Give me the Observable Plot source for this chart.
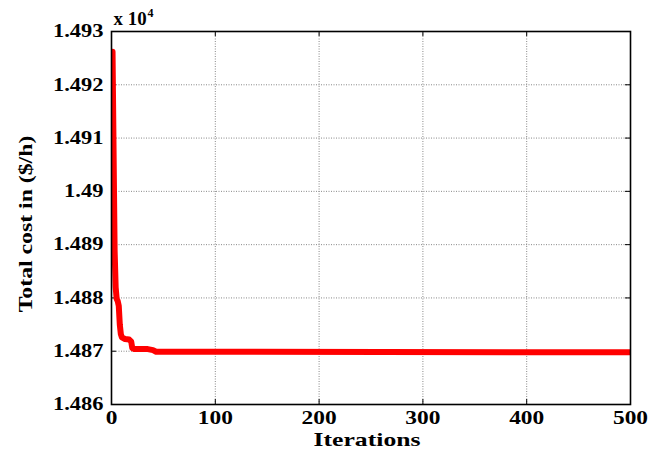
<!DOCTYPE html>
<html>
<head>
<meta charset="utf-8">
<script src="https://cdn.jsdelivr.net/npm/d3@7"></script>
<script src="https://cdn.jsdelivr.net/npm/@observablehq/plot@0.6"></script>
<style>
  html, body { margin: 0; padding: 0; background: #fff; }
  svg { display: block; }
  #chart svg text { font-family: "Liberation Serif", "Times New Roman", serif; font-weight: bold; }
</style>
</head>
<body>
<div id="chart"></div>
<script>
// Data
const iterations = [1, 3, 4, 5, 6, 7, 8, 9, 10, 13, 17, 19, 20, 22, 35, 40, 43, 500];
const cost = [14926.2, 14889, 14882, 14879.8, 14879.4, 14878.5, 14875, 14873.2, 14872.6, 14872.3, 14872.2, 14871.8, 14870.6, 14870.4, 14870.4, 14870.2, 14869.9, 14869.8];
const xTicks = [0, 100, 200, 300, 400, 500];
const yTicks = [14860, 14870, 14880, 14890, 14900, 14910, 14920, 14930];
const xLabel = "Iterations";
const yLabel = "Total cost in ($/h)";
const expBase = "x 10";
const expPower = "4";

const data = iterations.map((it, i) => ({it, c: cost[i]}));
const W = 661, H = 450, mL = 111, mR = 31, mT = 31, mB = 46;
const fw = W - mL - mR, fh = H - mT - mB;
const fmtY = d => String(+(d / 1e4).toFixed(3));

const svg = Plot.plot({
  width: W, height: H,
  marginLeft: mL, marginRight: mR, marginTop: mT, marginBottom: mB,
  style: {fontSize: "18px", background: "white", color: "black"},
  x: {domain: [0, 500], ticks: xTicks},
  y: {domain: [14860, 14930], ticks: yTicks},
  marks: [
    Plot.gridX(xTicks, {stroke: "#888", strokeOpacity: 1, strokeDasharray: "1,1.5", strokeWidth: 1}),
    Plot.gridY(yTicks, {stroke: "#888", strokeOpacity: 1, strokeDasharray: "1,1.5", strokeWidth: 1}),
    // inward ticks on all four sides
    Plot.tickX(xTicks, {x: d => d, insetTop: fh - 5, stroke: "black"}),
    Plot.tickX(xTicks, {x: d => d, insetBottom: fh - 5, stroke: "black"}),
    Plot.tickY(yTicks, {y: d => d, insetRight: fw - 5, stroke: "black"}),
    Plot.tickY(yTicks, {y: d => d, insetLeft: fw - 5, stroke: "black"}),
    Plot.line(data, {x: "it", y: "c", stroke: "#ff0000", strokeWidth: 6, strokeLinejoin: "round", strokeLinecap: "round", clip: true}),
    Plot.frame({stroke: "black", strokeWidth: 1.6}),
    Plot.axisX(xTicks, {tickSize: 0, tickPadding: 7, label: null, fontSize: 18}),
    Plot.axisY(yTicks, {tickSize: 0, tickPadding: 8, label: null, tickFormat: fmtY, fontSize: 18}),
    Plot.text([xLabel], {text: d => d, frameAnchor: "bottom", dx: -4, dy: 35, textAnchor: "middle", lineAnchor: "middle", fontSize: 19}),
    Plot.text([yLabel], {text: d => d, frameAnchor: "left", dx: -86, dy: 6, rotate: -90, textAnchor: "middle", lineAnchor: "middle", fontSize: 19}),
    Plot.text([expBase], {text: d => d, frameAnchor: "top-left", dx: 2, dy: -7, textAnchor: "start", lineAnchor: "bottom", fontSize: 18}),
    Plot.text([expPower], {text: d => d, frameAnchor: "top-left", dx: 36, dy: -15, textAnchor: "start", lineAnchor: "bottom", fontSize: 12})
  ]
});

document.getElementById("chart").appendChild(svg);

function stretchEl(el, f) {
  const len = el.getComputedTextLength();
  el.setAttribute("textLength", (len * f).toFixed(1));
  el.setAttribute("lengthAdjust", "spacingAndGlyphs");
}
svg.querySelectorAll('g[aria-label="y-axis tick label"] text').forEach(el => stretchEl(el, 1.25));
svg.querySelectorAll('g[aria-label="x-axis tick label"] text').forEach(el => stretchEl(el, 1.3));
svg.querySelectorAll("text").forEach(el => {
  const t = el.textContent;
  if (t === xLabel) stretchEl(el, 1.35);
  else if (t === yLabel) stretchEl(el, 1.25);
  else if (t === expBase) { el.style.fontSize = "18px"; stretchEl(el, 1.05); }
  else if (t === expPower) { el.style.fontSize = "12px"; }
});
</script>
</body>
</html>
